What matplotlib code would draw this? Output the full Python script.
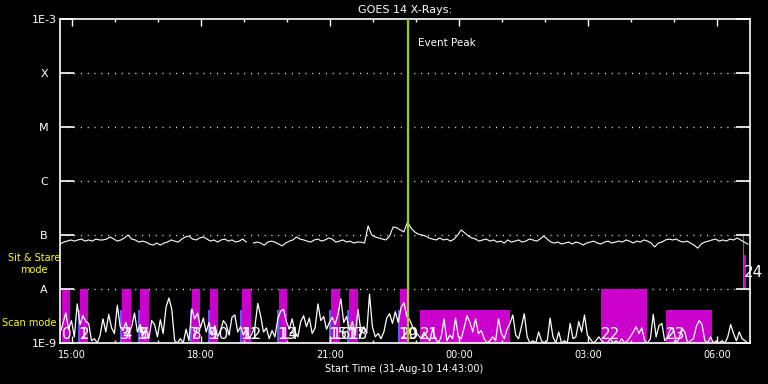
import numpy as np
import matplotlib
matplotlib.use('Agg')
import matplotlib.pyplot as plt
from matplotlib.ticker import NullLocator

# ---------------- data ----------------
START_TIME = "14:43"
END_TIME = "06:46"
EVENT_PEAK = "22:48"

# GOES 14 long-channel flux, 5-minute cadence from start, units of 1e-8 W/m^2
goes_flux = [
    6.8, 7.4, 7.7, 8.1, 7.7, 8.1, 8.4, 7.7, 8.1, 7.7, 8.4, 8.1,
    8.1, 8.4, 9.2, 8.4, 7.7, 8.1, 8.8, 10.0, 8.4, 8.1, 7.4, 7.7,
    7.4, 6.8, 6.5, 7.1, 6.5, 7.1, 7.4, 8.1, 7.7, 7.4, 8.4, 9.2,
    9.6, 8.4, 8.1, 8.8, 9.2, 8.4, 7.7, 8.1, 7.4, 8.1, 8.4, 7.7,
    8.1, 7.4, 7.7, 8.4, 7.4, np.nan, 7.1, 7.4, 7.1, 6.5, 7.4, 7.7,
    7.4, 6.8, 6.3, 7.1, 7.7, 8.1, 9.2, 8.4, 8.1, 7.7, 7.4, 8.1,
    8.4, 7.7, 8.1, 8.8, 8.4, 7.4, 7.7, 8.1, 7.4, 7.7, 7.1, 7.4,
    7.4, 7.1, 14.7, 10.0, 9.2, 8.8, 8.4, 8.1, 9.6, 14.1, 13.6, 12.4,
    11.4, 17.4, 13.4, 11.4, 10.4, 10.0, 9.6, 8.8, 8.4, 8.1, 8.8, 8.1,
    8.4, 7.7, 8.4, 10.0, 12.4, 10.9, 9.6, 8.8, 8.4, 7.7, 8.1, 8.4,
    7.7, 8.1, 7.4, 7.7, 7.1, 8.1, 7.4, 7.7, 8.1, 7.4, 7.7, 8.4,
    8.1, 7.7, 8.4, 9.6, 8.4, 7.4, 7.1, 7.4, 6.8, 7.1, 7.4, 6.8,
    7.4, 7.1, 6.5, 7.1, 7.4, 7.7, 7.1, 6.8, 7.4, 7.7, 7.1, 7.4,
    7.7, 7.4, 8.1, 7.7, 7.1, 7.7, 7.4, 8.1, 7.7, 7.1, 6.0, 7.1,
    7.4, 8.1, 8.4, 8.1, 8.4, 7.7, 7.4, 7.7, 7.1, 6.5, 5.7, 6.8,
    7.4, 7.7, 8.1, 8.4, 7.7, 8.1, 7.7, 8.4, 8.1, 8.8, 8.1, 7.4, 6.8,
]
GOES_CADENCE_MIN = 5

# spiky lower series, 4-minute cadence from start, units of 1e-9
spike_flux = [
    1.5, 2.3, 3.6, 1.8, 2.6, 1.3, 5.3, 2.2, 3.2, 2.5,
    2.3, 1.1, 1.2, 1.0, 1.4, 2.8, 1.6, 3.4, 1.9, 1.5,
    5.0, 2.0, 1.7, 2.4, 1.5, 2.0, 3.6, 1.6, 2.2, 1.4,
    1.9, 1.2, 2.6, 2.2, 1.3, 2.7, 1.5, 4.6, 6.8, 4.2,
    1.1, 1.0, 1.2, 1.0, 1.8, 1.1, 4.3, 2.8, 3.6, 1.9,
    2.9, 1.6, 2.4, 1.4, 2.1, 1.3, 1.7, 2.6, 2.2, 1.4,
    3.0, 3.3, 1.6, 2.0, 1.4, 1.9, 1.2, 1.5, 2.0, 5.4,
    3.2, 1.6, 1.9, 1.2, 1.7, 1.3, 2.8, 3.9, 4.2, 2.5,
    1.8, 2.8, 1.6, 1.3, 2.5, 3.2, 2.0, 2.9, 1.5, 1.9,
    5.3, 2.6, 3.1, 1.8, 2.4, 3.0, 2.2, 3.4, 6.6, 2.4,
    3.1, 1.7, 2.5, 1.4, 4.2, 1.6, 2.0, 1.5, 8.0, 2.0,
    1.3, 1.5, 1.2, 1.6, 2.9, 3.5, 2.3, 3.8, 2.4, 4.5,
    5.6, 3.1, 2.7, 2.0, 1.6, 1.4, 1.2, 1.6, 1.3, 1.1,
    1.8, 1.2, 1.0, 1.3, 2.8, 1.1, 1.4, 1.2, 2.9, 1.3,
    1.2, 1.9, 3.2, 2.4, 1.6, 2.8, 1.5, 1.7, 1.2, 1.0,
    1.1, 1.3, 1.1, 2.8, 1.5, 1.2, 1.8, 2.3, 3.3, 1.4,
    1.2, 2.0, 3.5, 1.3, 1.0, 1.1, 1.0, 1.6, 1.1, 1.0,
    1.1, 2.9, 1.3, 1.0, 1.6, 1.0, 1.1, 1.0, 2.3, 1.2,
    1.3, 2.5, 1.6, 3.3, 1.4, 1.2, 1.0, 1.1, 1.3, 1.1,
    1.0, 1.0, 1.2, 1.0, 1.1, 1.0, 1.2, 1.0, 1.1, 1.3,
    1.6, 2.0, 1.5, 1.9, 1.1, 1.0, 1.2, 3.4, 1.3, 2.1,
    2.3, 1.1, 1.3, 1.8, 1.9, 1.0, 1.2, 1.9, 1.6, 1.0,
    1.1, 1.2, 2.0, 2.6, 2.2, 1.1, 1.0, 1.3, 1.0, 1.1,
    1.0, 1.1, 1.0, 1.3, 2.2, 1.5, 1.1, 1.6, 1.2, 1.1, 1.0,
]
SPIKE_CADENCE_MIN = 4

# observing blocks
bar_label = ['0', '1', '2', '3', '4', '5', '6', '7', '8', '9', '10', '11', '12',
             '13', '14', '15', '16', '17', '18', '19', '20', '21', '22', '23', '', '24']
bar_kind = ['stare', 'scan', 'stare', 'scan', 'stare', 'scan', 'stare', 'scan',
            'stare', 'scan', 'stare', 'scan', 'stare', 'scan', 'stare', 'scan',
            'stare', 'scan', 'stare', 'scan', 'stare', 'raster', 'stare', 'raster',
            'scan', 'stare']
bar_start = ['14:46', '15:08', '15:11', '16:07', '16:10', '16:32', '16:35', '17:44',
             '17:47', '18:10', '18:12', '18:54', '18:57', '19:46', '19:49', '20:58',
             '21:01', '21:23', '21:26', '22:35', '22:37', '23:05', '03:18', '04:49',
             '06:36', '06:37']
bar_end = ['14:57', '15:11', '15:22', '16:10', '16:22', '16:35', '16:47', '17:47',
           '17:58', '18:12', '18:24', '18:57', '19:09', '19:49', '20:00', '21:01',
           '21:14', '21:26', '21:39', '22:37', '22:47', '01:11', '04:22', '05:53',
           '06:37', '06:40']
bar_bottom = [1e-9] * 24 + [1e-8, 1e-8]
bar_top = [1e-8, 4e-9, 1e-8, 4e-9, 1e-8, 4e-9, 1e-8, 4e-9, 1e-8, 4e-9, 1e-8, 4e-9,
           1e-8, 4e-9, 1e-8, 4e-9, 1e-8, 4e-9, 1e-8, 4e-9, 1e-8, 4e-9, 1e-8, 4e-9,
           1e-7, 4.3e-8]
label_level = [1.2e-9] * 24 + [1.7e-8, 1.7e-8]

x_ticks = [15, 18, 21, 24, 27, 30]
x_ticklabels = ['15:00', '18:00', '21:00', '00:00', '03:00', '06:00']
y_ticks = [1e-9, 1e-8, 1e-7, 1e-6, 1e-5, 1e-4, 1e-3]
y_ticklabels = ['1E-9', 'A', 'B', 'C', 'M', 'X', '1E-3']


def hm(s):
    h, m = map(int, s.split(':'))
    t = h + m / 60.0
    return t + 24 if t < 12 else t


t0 = hm(START_TIME)
t1 = hm(END_TIME)
goes_t = t0 + np.arange(len(goes_flux)) * GOES_CADENCE_MIN / 60.0
goes_v = np.array(goes_flux) * 1e-8
spk_t = t0 + np.arange(len(spike_flux)) * SPIKE_CADENCE_MIN / 60.0
spk_v = np.array(spike_flux) * 1e-9

# ---------------- figure ----------------
W, H = 768, 384
fig = plt.figure(figsize=(W / 100, H / 100), dpi=100, facecolor='black')
ax = fig.add_axes([60 / W, 1 - 343 / H, 690 / W, 324 / H])
ax.set_facecolor('black')
ax.set_yscale('log')
ax.set_ylim(1e-9, 1e-3)
ax.set_xlim(t0, t1)

kind_color = {'stare': '#cc00cc', 'raster': '#cc00cc', 'scan': '#5c5cff'}
for lab, kind, s, e, b, tp in zip(bar_label, bar_kind, bar_start, bar_end, bar_bottom, bar_top):
    xs, xe = hm(s), hm(e)
    ax.bar(xs, tp - b, width=xe - xs, bottom=b, align='edge',
           color=kind_color[kind], linewidth=0, zorder=1)

for y in y_ticks[1:-1]:
    ax.axhline(y, color='white', lw=1.0, linestyle=(0, (0.7, 4.2)), zorder=0.5)

ax.plot(spk_t, spk_v, color='white', lw=0.9, zorder=3)
ax.plot(goes_t, goes_v, color='white', lw=0.8, zorder=3)

for lab, s, lv in zip(bar_label, bar_start, label_level):
    if lab:
        ax.text(hm(s), lv, lab, color='white', fontsize=11,
                family='DejaVu Sans', ha='left', va='baseline', zorder=4,
                clip_on=False)

ev = hm(EVENT_PEAK)
ax.axvline(ev, color='#a0d000', lw=1.6, zorder=5)
ax.annotate('Event Peak', xy=(ev, 1e-3), xytext=(7.5, -17.5),
            textcoords='offset points', color='white', fontsize=7.5,
            ha='left', va='center')

# axes styling
for sp in ax.spines.values():
    sp.set_color('white')
    sp.set_linewidth(1.2)
ax.set_xticks(x_ticks)
ax.set_xticklabels(x_ticklabels)
ax.set_xticks(np.arange(15, 31), minor=True)
ax.set_yticks(y_ticks)
ax.set_yticklabels(y_ticklabels)
ax.yaxis.set_minor_locator(NullLocator())
ax.tick_params(axis='x', which='major', direction='in', length=5, width=1,
               top=True, bottom=True, colors='white', labelsize=7, pad=5)
ax.tick_params(axis='x', which='minor', direction='in', length=2.5, width=1,
               top=True, bottom=True, colors='white')
ax.tick_params(axis='y', which='major', direction='in', length=10, width=1.2,
               left=True, right=True, colors='white', labelsize=8, pad=11.5)
for lb in ax.get_yticklabels():
    lb.set_horizontalalignment('center')

fig.text(405 / W, 1 - 10 / H, 'GOES 14 X-Rays:', color='white', fontsize=8,
         ha='center', va='center')
fig.text(404 / W, 1 - 369 / H, 'Start Time (31-Aug-10 14:43:00)', color='white',
         fontsize=7, ha='center', va='center')
fig.text(34 / W, 1 - 264 / H, 'Sit & Stare\nmode', color='yellow', fontsize=7,
         ha='center', va='center', multialignment='center', linespacing=1.3)
fig.text(2 / W, 1 - 323 / H, 'Scan mode', color='yellow', fontsize=7,
         ha='left', va='center')

fig.savefig('out.png', dpi=100, facecolor='black')
